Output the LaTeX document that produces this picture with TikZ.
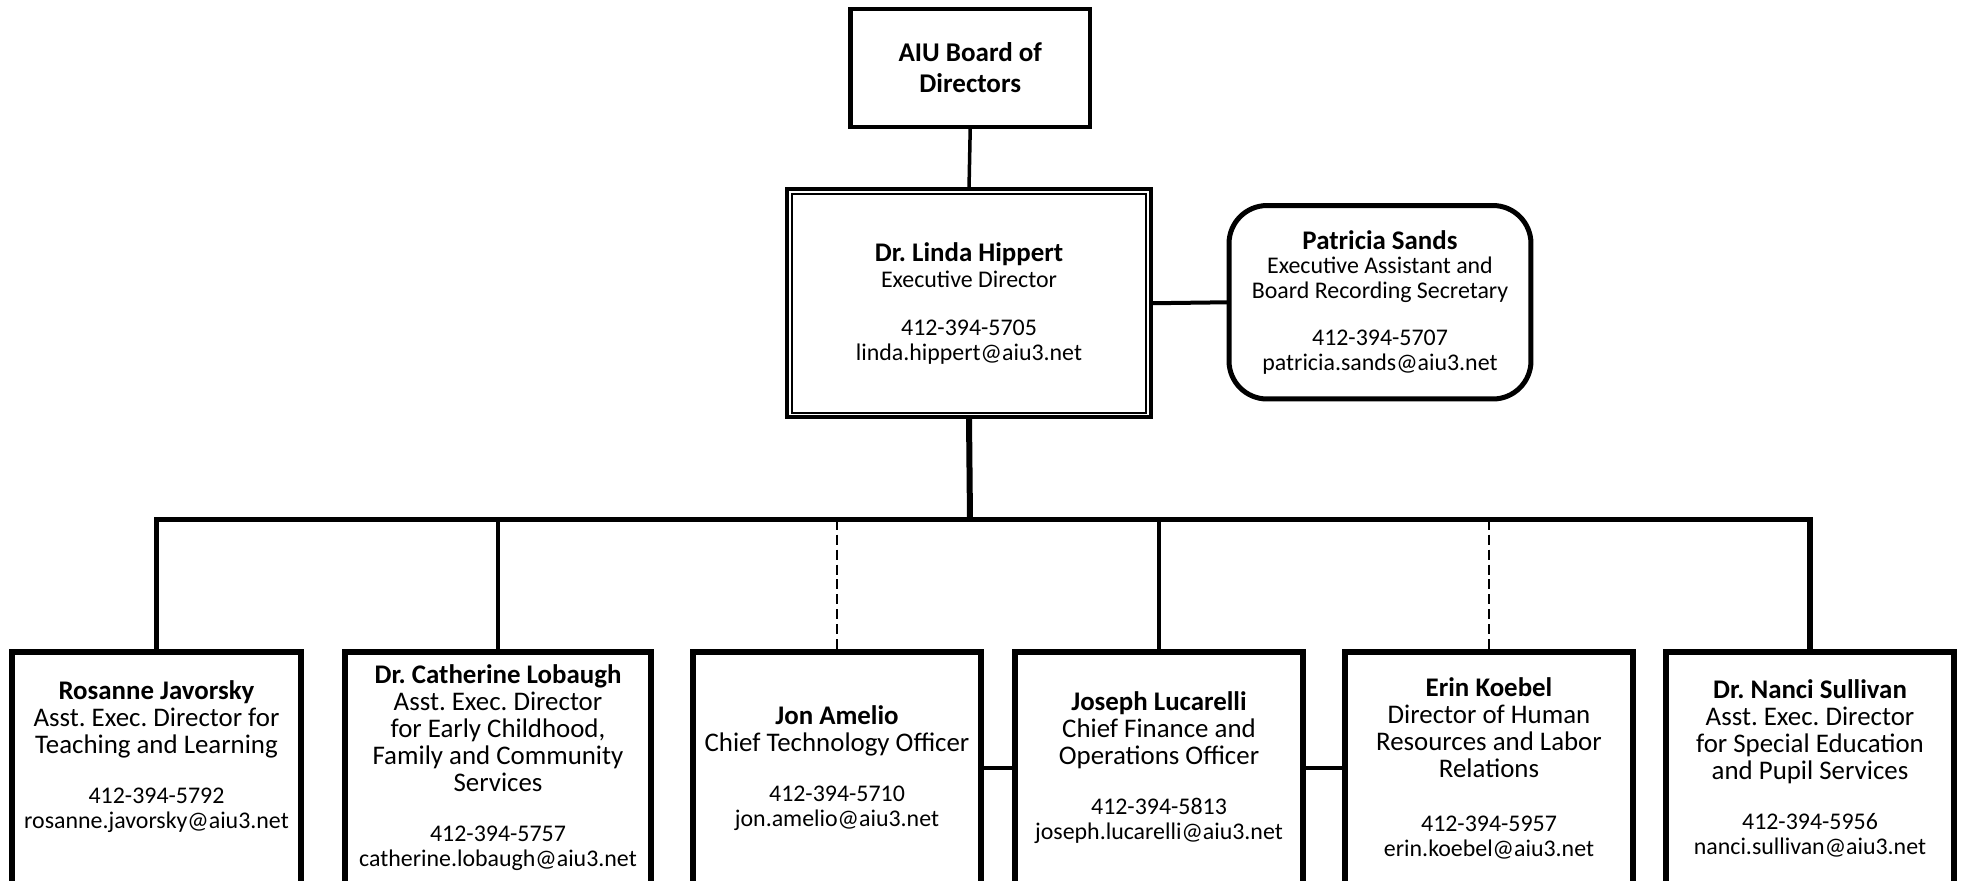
\documentclass[tikz,border=0pt]{standalone}
\usepackage{fontspec}
\setmainfont{Carlito}
\usepackage{tikz}

\newcommand{\titel}[1]{{\fontsize{15.3}{15.5}\selectfont\bfseries #1}}
\newcommand{\kontakt}[1]{{\fontsize{13.6}{14}\selectfont #1}}

\begin{document}
\frenchspacing
\begin{tikzpicture}[x=0.02cm, y=-0.02cm,
    kasten/.style={draw, rectangle, outer sep=0pt, align=center, inner sep=2pt},
    mitte/.style={kasten, font=\fontsize{13.6}{13.9}\selectfont},
    unten/.style={kasten, line width=0.12cm, minimum height=4.64cm,
        font=\fontsize{15.3}{15.37}\selectfont},
    strich/.style={dash pattern=on 0.2cm off 0.1cm}]
% Rahmen
\useasboundingbox (0,0) rectangle (1965,880);

% Vorstand
\node[kasten, line width=0.09cm, minimum width=4.79cm, minimum height=2.36cm,
    font=\fontsize{15.4}{17.6}\selectfont\bfseries] (board) at (970.25,68)
    {AIU Board of\\Directors};

% Geschaeftsfuehrung mit Doppelrahmen
\node[mitte, line width=0.08cm, minimum width=7.28cm, minimum height=4.57cm]
    (hippert) at (969,303.25)
    {\titel{Dr. Linda Hippert}\\[0.04cm]Executive Director\\[0.48cm]412-394-5705\\linda.hippert@aiu3.net};
\draw[line width=0.04cm] ([shift={(5,4.5)}]hippert.north west)
    rectangle ([shift={(-5,-4)}]hippert.south east);

% Assistenz
\node[mitte, rounded corners=0.76cm, line width=0.1cm, minimum width=6.04cm,
    minimum height=3.87cm] (sands) at (1380,302.25)
    {\titel{Patricia Sands}\\Executive Assistant and\\Board Recording Secretary\\[0.46cm]412-394-5707\\patricia.sands@aiu3.net};

% Untere Reihe
\node[unten, minimum width=5.77cm] (javorsky) at (156.5,768)
    {\titel{Rosanne Javorsky}\\Asst. Exec. Director for\\Teaching and Learning\\[0.46cm]\kontakt{412-394-5792}\\[-0.04cm]\kontakt{rosanne.javorsky@aiu3.net}\\\mbox{}};
\node[unten, minimum width=6.14cm] (lobaugh) at (498,768)
    {\titel{Dr. Catherine Lobaugh}\\Asst. Exec. Director\\for Early Childhood,\\Family and Community\\Services\\[0.46cm]\kontakt{412-394-5757}\\[-0.04cm]\kontakt{catherine.lobaugh@aiu3.net}};
\node[unten, minimum width=5.76cm] (amelio) at (837,768)
    {\titel{Jon Amelio}\\Chief Technology Officer\\[0.46cm]\kontakt{412-394-5710}\\[-0.04cm]\kontakt{jon.amelio@aiu3.net}};
\node[unten, minimum width=5.77cm] (lucarelli) at (1159,768)
    {\titel{Joseph Lucarelli}\\Chief Finance and\\Operations Officer\\[0.46cm]\kontakt{412-394-5813}\\[-0.04cm]\kontakt{joseph.lucarelli@aiu3.net}};
\node[unten, minimum width=5.76cm] (koebel) at (1489,768)
    {\titel{Erin Koebel}\\Director of Human\\Resources and Labor\\Relations\\[0.54cm]\kontakt{412-394-5957}\\[-0.04cm]\kontakt{erin.koebel@aiu3.net}};
\node[unten, minimum width=5.78cm] (sullivan) at (1810,768)
    {\titel{Dr. Nanci Sullivan}\\Asst. Exec. Director\\for Special Education\\and Pupil Services\\[0.46cm]\kontakt{412-394-5956}\\[-0.04cm]\kontakt{nanci.sullivan@aiu3.net}};

% Verbindungen oben
\coordinate (bus) at (970,519.5);
\draw[line width=0.07cm] (board.south) -- (hippert.north);
\draw[line width=0.08cm] (hippert.east) -- (sands.west);
\draw[line width=0.12cm] (hippert.south) -- (bus);

% Sammelschiene
\draw[line width=0.11cm] (javorsky.north) -- (javorsky.north |- bus)
    -- (sullivan.north |- bus) -- (sullivan.north);
\foreach \n in {lobaugh,lucarelli}
{
    \draw[line width=0.07cm] (\n.north |- bus) -- (\n.north);
}
\foreach \n in {amelio,koebel}
{
    \draw[line width=0.05cm, strich] (\n.north |- bus) -- (\n.north);
}

% Querverbindungen
\draw[line width=0.08cm] (amelio.east) -- (lucarelli.west);
\draw[line width=0.08cm] (lucarelli.east) -- (koebel.west);

\end{tikzpicture}
\end{document}
